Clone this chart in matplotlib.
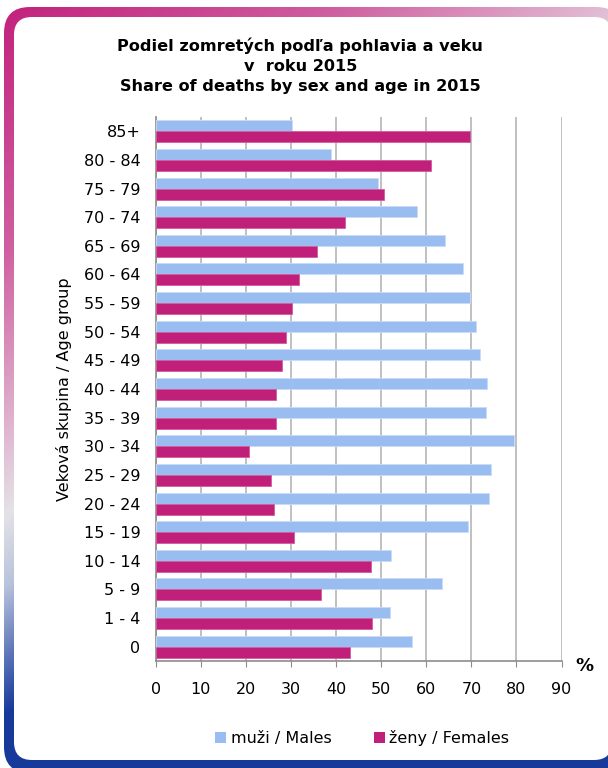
import numpy as np
import matplotlib
matplotlib.use("Agg")
import matplotlib.pyplot as plt
from matplotlib.patches import FancyBboxPatch, Patch
from matplotlib.colors import LinearSegmentedColormap

# Data (share of deaths in %)
age_groups = ['0', '1 - 4', '5 - 9', '10 - 14', '15 - 19', '20 - 24', '25 - 29',
              '30 - 34', '35 - 39', '40 - 44', '45 - 49', '50 - 54', '55 - 59',
              '60 - 64', '65 - 69', '70 - 74', '75 - 79', '80 - 84', '85+']
males = [56.9, 52.0, 63.4, 52.2, 69.3, 73.8, 74.4, 79.4, 73.3, 73.4,
         72.0, 71.0, 69.8, 68.2, 64.2, 58.0, 49.4, 38.9, 30.3]
females = [43.1, 48.0, 36.6, 47.8, 30.7, 26.2, 25.6, 20.6, 26.7, 26.6,
           28.0, 29.0, 30.2, 31.8, 35.8, 42.0, 50.6, 61.1, 69.7]
x_ticks = [0, 10, 20, 30, 40, 50, 60, 70, 80, 90]

male_color = '#99bdf0'
female_color = '#c0207a'

fig = plt.figure(figsize=(6.08, 7.68), dpi=100)

# Rounded gradient frame behind everything
bg = fig.add_axes([0, 0, 1, 1], zorder=-1)
bg.set_xlim(0, 608)
bg.set_ylim(768, 0)
bg.axis('off')
xx, yy = np.meshgrid(np.arange(608), np.arange(768))
t = (440 * xx + 608 * yy) / 273600.0
cmap = LinearSegmentedColormap.from_list(
    'frame', [(0, '#c21f7b'), (0.35, '#cf5fa0'), (0.6, '#e0b4cf'),
              (0.72, '#e4e2e6'), (0.82, '#b8c3dc'), (0.92, '#5b74b8'), (1, '#16399a')])
img = bg.imshow(np.clip(t / 1.6, 0, 1), cmap=cmap, extent=(0, 608, 768, 0),
                vmin=0, vmax=1, interpolation='bilinear')
outer = FancyBboxPatch((4, 7), 618, 766, boxstyle='round,pad=0,rounding_size=26',
                       facecolor='none', edgecolor='none')
bg.add_patch(outer)
img.set_clip_path(outer)
inner = FancyBboxPatch((14, 17), 598, 743, boxstyle='round,pad=0,rounding_size=18',
                       facecolor='white', edgecolor='none')
bg.add_patch(inner)

# Main chart
ax = fig.add_axes([0.2559, 0.1393, 0.6678, 0.7084])
y = np.arange(len(age_groups))
h = 0.385
ax.barh(y + h / 2, males, height=h, color=male_color, edgecolor='#c9dcf6',
        linewidth=0.6, label='muži / Males', zorder=3)
ax.barh(y - h / 2, females, height=h, color=female_color, edgecolor='#d45b9d',
        linewidth=0.6, label='ženy / Females', zorder=3)

ax.set_xlim(0, 90)
ax.set_ylim(-0.5, len(age_groups) - 0.5)
ax.set_xticks(x_ticks)
ax.set_yticks(y)
ax.set_yticklabels(age_groups)
ax.grid(axis='x', color='#b5b5b5', linewidth=1.2, zorder=0)
ax.set_axisbelow(True)
for side in ['top', 'right']:
    ax.spines[side].set_visible(False)
ax.spines['left'].set_color('#8c8c8c')
ax.spines['bottom'].set_color('#8c8c8c')
ax.spines['left'].set_linewidth(1.2)
ax.spines['bottom'].set_linewidth(1.2)
ax.tick_params(axis='x', direction='out', length=4, color='#8c8c8c',
               labelsize=11.5, pad=11)
ax.tick_params(axis='y', length=0, labelsize=11.5, pad=11)
ax.set_ylabel('Veková skupina / Age group', fontsize=11.5)
ax.yaxis.set_label_coords(-0.205, 0.5)

fig.text(0.962, 0.133, '%', fontsize=13, fontweight='bold', ha='center', va='center')

# Title
fig.text(0.494, 0.914,
         'Podiel zomretých podľa pohlavia a veku\nv  roku 2015\nShare of deaths by sex and age in 2015',
         fontsize=11.6, fontweight='bold', ha='center', va='center', linespacing=1.42)

# Legend
handles = [Patch(facecolor=male_color, label='muži / Males'),
           Patch(facecolor=female_color, label='ženy / Females')]
fig.legend(handles=handles, loc='center', bbox_to_anchor=(0.596, 0.039), ncol=2,
           frameon=False, fontsize=11.5, handlelength=0.7, handleheight=0.7,
           handletextpad=0.3, columnspacing=2.6)

fig.savefig('out.png', dpi=100)
